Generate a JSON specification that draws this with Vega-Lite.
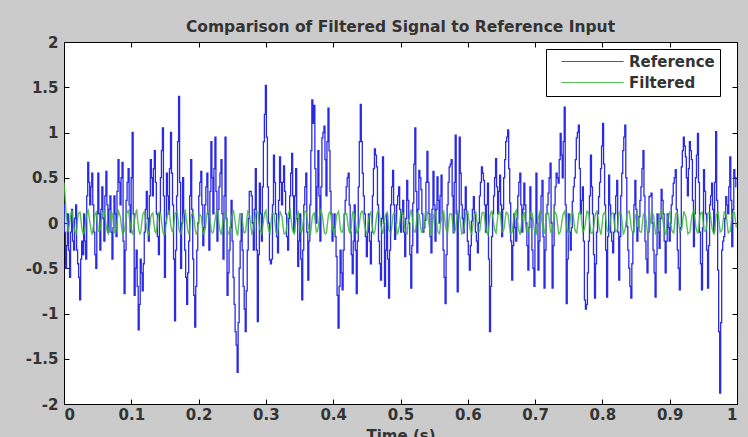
{
  "$schema": "https://vega.github.io/schema/vega-lite/v6.json",
  "width": 673,
  "height": 362,
  "autosize": {"type": "none"},
  "padding": {"left": 64, "top": 42, "right": 11, "bottom": 33},
  "background": "#cbcbcb",
  "title": {
    "text": "Comparison of Filtered Signal to Reference Input",
    "font": "DejaVu Sans",
    "fontSize": 15.5,
    "fontWeight": "bold",
    "color": "#333333",
    "offset": 0
  },
  "config": {
    "view": {"fill": "white", "stroke": "black", "strokeWidth": 1},
    "axis": {
      "domain": false,
      "grid": false,
      "tickColor": "black",
      "tickSize": -5,
      "labelFont": "DejaVu Sans",
      "labelFontSize": 15,
      "labelFontWeight": "bold",
      "labelColor": "#333333",
      "titleFont": "DejaVu Sans",
      "titleFontSize": 15,
      "titleFontWeight": "bold",
      "titleColor": "#333333",
      "labelExpr": "'' + datum.value"
    }
  },
  "data": {
    "values": [
      {"t":0,"r":0.2,"f":0.45},{"t":0.003,"r":-0.5,"f":0.12},{"t":0.006,"r":0.1,"f":-0.1},{"t":0.009,"r":-0.6,"f":0.04},{"t":0.012,"r":0.15,"f":0.14},{"t":0.015,"r":-0.3,"f":-0.06},{"t":0.018,"r":0.2,"f":-0.12},{"t":0.021,"r":-0.45,"f":0.09},{"t":0.024,"r":-0.85,"f":0.12},{"t":0.027,"r":-0.2,"f":-0.08},
      {"t":0.03,"r":0.1,"f":-0.11},{"t":0.033,"r":-0.4,"f":0.07},{"t":0.036,"r":0.67,"f":0.14},{"t":0.039,"r":0.2,"f":-0.02},{"t":0.042,"r":0.55,"f":-0.13},{"t":0.045,"r":-0.1,"f":0.05},{"t":0.048,"r":-0.5,"f":0.12},{"t":0.051,"r":0.55,"f":-0.09},{"t":0.054,"r":-0.3,"f":-0.06},{"t":0.057,"r":0.4,"f":0.11},
      {"t":0.06,"r":-0.2,"f":0.13},{"t":0.063,"r":0.57,"f":-0.05},{"t":0.066,"r":-0.1,"f":-0.12},{"t":0.069,"r":0.3,"f":0.08},{"t":0.072,"r":-0.4,"f":0.1},{"t":0.075,"r":0.3,"f":-0.1},{"t":0.078,"r":-0.15,"f":-0.04},{"t":0.081,"r":0.7,"f":0.13},{"t":0.084,"r":0.2,"f":0.06},{"t":0.087,"r":0.67,"f":-0.12},
      {"t":0.09,"r":-0.78,"f":-0.08},{"t":0.093,"r":0.25,"f":0.1},{"t":0.096,"r":0.6,"f":0.14},{"t":0.099,"r":-0.1,"f":-0.03},{"t":0.102,"r":1.0,"f":-0.13},{"t":0.105,"r":-0.8,"f":0.04},{"t":0.108,"r":-0.3,"f":0.15},{"t":0.111,"r":-1.18,"f":-0.07},{"t":0.114,"r":-0.4,"f":-0.11},{"t":0.117,"r":-0.75,"f":0.09},
      {"t":0.12,"r":-0.1,"f":0.12},{"t":0.123,"r":0.35,"f":-0.06},{"t":0.126,"r":-0.2,"f":-0.13},{"t":0.129,"r":0.7,"f":0.07},{"t":0.132,"r":0.3,"f":0.11},{"t":0.135,"r":0.8,"f":-0.09},{"t":0.138,"r":0.1,"f":-0.05},{"t":0.141,"r":-0.35,"f":0.12},{"t":0.144,"r":0.5,"f":0.09},{"t":0.147,"r":1.05,"f":-0.1},
      {"t":0.15,"r":-0.6,"f":-0.12},{"t":0.153,"r":0.55,"f":0.06},{"t":0.156,"r":0.1,"f":0.14},{"t":0.159,"r":1.0,"f":-0.04},{"t":0.162,"r":0.2,"f":-0.1},{"t":0.165,"r":-1.08,"f":0.1},{"t":0.168,"r":0.3,"f":0.13},{"t":0.171,"r":1.4,"f":-0.08},{"t":0.174,"r":-0.5,"f":-0.12},{"t":0.177,"r":0.5,"f":0.05},
      {"t":0.18,"r":-0.3,"f":0.15},{"t":0.183,"r":-0.9,"f":-0.02},{"t":0.186,"r":-0.2,"f":-0.13},{"t":0.189,"r":0.7,"f":0.08},{"t":0.192,"r":-0.4,"f":0.12},{"t":0.195,"r":-1.15,"f":-0.07},{"t":0.198,"r":-0.3,"f":-0.11},{"t":0.201,"r":0.3,"f":0.1},{"t":0.204,"r":0.57,"f":0.07},{"t":0.207,"r":-0.25,"f":-0.13},
      {"t":0.21,"r":0.2,"f":-0.06},{"t":0.213,"r":0.55,"f":0.12},{"t":0.216,"r":-0.3,"f":0.11},{"t":0.219,"r":0.9,"f":-0.09},{"t":0.222,"r":0.1,"f":-0.1},{"t":0.225,"r":0.95,"f":0.06},{"t":0.228,"r":-0.2,"f":0.14},{"t":0.231,"r":0.4,"f":-0.05},{"t":0.234,"r":0.7,"f":-0.13},{"t":0.237,"r":-0.4,"f":0.09},
      {"t":0.24,"r":0.95,"f":0.11},{"t":0.243,"r":-0.8,"f":-0.08},{"t":0.246,"r":-0.3,"f":-0.12},{"t":0.249,"r":0.25,"f":0.07},{"t":0.252,"r":-0.6,"f":0.13},{"t":0.255,"r":-1.2,"f":-0.03},{"t":0.258,"r":-1.65,"f":-0.14},{"t":0.261,"r":-0.5,"f":0.1},{"t":0.264,"r":0.1,"f":0.09},{"t":0.267,"r":-0.7,"f":-0.1},
      {"t":0.27,"r":-1.2,"f":-0.09},{"t":0.273,"r":-0.3,"f":0.13},{"t":0.276,"r":0.35,"f":0.08},{"t":0.279,"r":0.3,"f":-0.12},{"t":0.282,"r":-0.3,"f":-0.05},{"t":0.285,"r":0.6,"f":0.11},{"t":0.288,"r":-1.09,"f":0.12},{"t":0.291,"r":0.44,"f":-0.07},{"t":0.294,"r":-0.2,"f":-0.12},{"t":0.297,"r":0.9,"f":0.06},
      {"t":0.3,"r":1.52,"f":0.14},{"t":0.303,"r":0.4,"f":-0.04},{"t":0.306,"r":-0.41,"f":-0.11},{"t":0.309,"r":-0.4,"f":0.1},{"t":0.312,"r":0.75,"f":0.1},{"t":0.315,"r":0.1,"f":-0.1},{"t":0.318,"r":-0.33,"f":-0.07},{"t":0.321,"r":0.73,"f":0.13},{"t":0.324,"r":0.2,"f":0.07},{"t":0.327,"r":0.63,"f":-0.12},
      {"t":0.33,"r":0.1,"f":-0.1},{"t":0.333,"r":-0.3,"f":0.08},{"t":0.336,"r":0.3,"f":0.15},{"t":0.339,"r":0.77,"f":-0.06},{"t":0.342,"r":-0.1,"f":-0.12},{"t":0.345,"r":0.6,"f":0.05},{"t":0.348,"r":-0.48,"f":0.12},{"t":0.351,"r":0.1,"f":-0.09},{"t":0.354,"r":-0.85,"f":-0.08},{"t":0.357,"r":0.2,"f":0.11},
      {"t":0.36,"r":0.55,"f":0.12},{"t":0.363,"r":-0.63,"f":-0.03},{"t":0.366,"r":0.2,"f":-0.14},{"t":0.369,"r":1.36,"f":0.07},{"t":0.372,"r":1.3,"f":0.11},{"t":0.375,"r":0.0,"f":-0.1},{"t":0.378,"r":0.8,"f":-0.04},{"t":0.381,"r":-0.2,"f":0.14},{"t":0.384,"r":0.94,"f":0.08},{"t":0.387,"r":1.07,"f":-0.11},
      {"t":0.39,"r":0.3,"f":-0.11},{"t":0.393,"r":1.27,"f":0.09},{"t":0.396,"r":0.35,"f":0.12},{"t":0.399,"r":-0.2,"f":-0.05},{"t":0.402,"r":0.1,"f":-0.13},{"t":0.405,"r":-0.37,"f":0.08},{"t":0.408,"r":-1.16,"f":0.13},{"t":0.411,"r":-0.3,"f":-0.08},{"t":0.414,"r":-0.74,"f":-0.1},{"t":0.417,"r":0.1,"f":0.1},
      {"t":0.42,"r":0.4,"f":0.1},{"t":0.423,"r":0.55,"f":-0.07},{"t":0.426,"r":-0.1,"f":-0.12},{"t":0.429,"r":-0.56,"f":0.12},{"t":0.432,"r":0.2,"f":0.09},{"t":0.435,"r":-0.78,"f":-0.11},{"t":0.438,"r":0.4,"f":-0.06},{"t":0.441,"r":1.31,"f":0.11},{"t":0.444,"r":0.55,"f":0.13},{"t":0.447,"r":0.1,"f":-0.04},
      {"t":0.45,"r":-0.37,"f":-0.13},{"t":0.453,"r":0.1,"f":0.06},{"t":0.456,"r":-0.45,"f":0.12},{"t":0.459,"r":0.3,"f":-0.09},{"t":0.462,"r":0.82,"f":-0.09},{"t":0.465,"r":0.62,"f":0.1},{"t":0.468,"r":-0.2,"f":0.14},{"t":0.471,"r":-0.63,"f":-0.03},{"t":0.474,"r":0.73,"f":-0.12},{"t":0.477,"r":-0.7,"f":0.07},
      {"t":0.48,"r":0.1,"f":0.12},{"t":0.483,"r":-0.83,"f":-0.08},{"t":0.486,"r":0.2,"f":-0.11},{"t":0.489,"r":0.58,"f":0.09},{"t":0.492,"r":-0.18,"f":0.11},{"t":0.495,"r":0.2,"f":-0.12},{"t":0.498,"r":0.4,"f":-0.05},{"t":0.501,"r":-0.1,"f":0.13},{"t":0.504,"r":0.25,"f":0.1},{"t":0.507,"r":-0.37,"f":-0.09},
      {"t":0.51,"r":0.47,"f":-0.12},{"t":0.513,"r":0.0,"f":0.05},{"t":0.516,"r":-0.72,"f":0.15},{"t":0.519,"r":0.22,"f":-0.06},{"t":0.522,"r":1.05,"f":-0.1},{"t":0.525,"r":-0.33,"f":0.11},{"t":0.528,"r":0.58,"f":0.09},{"t":0.531,"r":0.37,"f":-0.1},{"t":0.534,"r":-0.1,"f":-0.07},{"t":0.537,"r":0.03,"f":0.12},
      {"t":0.54,"r":0.79,"f":0.12},{"t":0.543,"r":0.1,"f":-0.05},{"t":0.546,"r":-0.33,"f":-0.13},{"t":0.549,"r":0.57,"f":0.08},{"t":0.552,"r":-0.2,"f":0.12},{"t":0.555,"r":0.51,"f":-0.08},{"t":0.558,"r":0.0,"f":-0.12},{"t":0.561,"r":0.53,"f":0.06},{"t":0.564,"r":-0.3,"f":0.14},{"t":0.567,"r":-0.89,"f":-0.04},
      {"t":0.57,"r":0.2,"f":-0.11},{"t":0.573,"r":0.62,"f":0.1},{"t":0.576,"r":0.7,"f":0.1},{"t":0.579,"r":-0.11,"f":-0.1},{"t":0.582,"r":0.97,"f":-0.06},{"t":0.585,"r":-0.76,"f":0.13},{"t":0.588,"r":0.95,"f":0.08},{"t":0.591,"r":0.2,"f":-0.12},{"t":0.594,"r":-0.11,"f":-0.09},{"t":0.597,"r":0.4,"f":0.09},
      {"t":0.6,"r":-0.2,"f":0.13},{"t":0.603,"r":-0.52,"f":-0.06},{"t":0.606,"r":0.02,"f":-0.12},{"t":0.609,"r":0.29,"f":0.07},{"t":0.612,"r":-0.1,"f":0.12},{"t":0.615,"r":-0.33,"f":-0.09},{"t":0.618,"r":0.3,"f":-0.08},{"t":0.621,"r":0.62,"f":0.11},{"t":0.624,"r":0.47,"f":0.11},{"t":0.627,"r":-0.1,"f":-0.07},
      {"t":0.63,"r":0.44,"f":-0.13},{"t":0.633,"r":-1.2,"f":0.08},{"t":0.636,"r":-0.15,"f":0.13},{"t":0.639,"r":0.3,"f":-0.04},{"t":0.642,"r":0.71,"f":-0.11},{"t":0.645,"r":0.1,"f":0.1},{"t":0.648,"r":0.53,"f":0.12},{"t":0.651,"r":-0.15,"f":-0.1},{"t":0.654,"r":0.5,"f":-0.06},{"t":0.657,"r":0.9,"f":0.12},
      {"t":0.66,"r":1.03,"f":0.09},{"t":0.663,"r":0.22,"f":-0.11},{"t":0.666,"r":-0.63,"f":-0.1},{"t":0.669,"r":0.1,"f":0.09},{"t":0.672,"r":-0.2,"f":0.14},{"t":0.675,"r":0.3,"f":-0.05},{"t":0.678,"r":0.55,"f":-0.13},{"t":0.681,"r":-0.1,"f":0.07},{"t":0.684,"r":0.44,"f":0.11},{"t":0.687,"r":0.0,"f":-0.09},
      {"t":0.69,"r":-0.52,"f":-0.1},{"t":0.693,"r":0.4,"f":0.12},{"t":0.696,"r":-0.3,"f":0.1},{"t":0.699,"r":-0.7,"f":-0.08},{"t":0.702,"r":0.55,"f":-0.12},{"t":0.705,"r":-0.52,"f":0.06},{"t":0.708,"r":0.1,"f":0.15},{"t":0.711,"r":0.47,"f":-0.03},{"t":0.714,"r":-0.72,"f":-0.12},{"t":0.717,"r":0.1,"f":0.1},
      {"t":0.72,"r":0.33,"f":0.11},{"t":0.723,"r":0.66,"f":-0.1},{"t":0.726,"r":-0.72,"f":-0.07},{"t":0.729,"r":0.2,"f":0.13},{"t":0.732,"r":0.55,"f":0.08},{"t":0.735,"r":0.44,"f":-0.12},{"t":0.738,"r":0.99,"f":-0.09},{"t":0.741,"r":0.5,"f":0.08},{"t":0.744,"r":1.28,"f":0.13},{"t":0.747,"r":-0.89,"f":-0.05},
      {"t":0.75,"r":0.1,"f":-0.12},{"t":0.753,"r":-0.3,"f":0.09},{"t":0.756,"r":0.24,"f":0.12},{"t":0.759,"r":0.5,"f":-0.07},{"t":0.762,"r":0.94,"f":-0.11},{"t":0.765,"r":1.08,"f":0.11},{"t":0.768,"r":0.1,"f":0.1},{"t":0.771,"r":0.4,"f":-0.1},{"t":0.774,"r":-0.85,"f":-0.05},{"t":0.777,"r":-0.9,"f":0.13},
      {"t":0.78,"r":-0.2,"f":0.09},{"t":0.783,"r":0.75,"f":-0.11},{"t":0.786,"r":0.1,"f":-0.1},{"t":0.789,"r":-0.83,"f":0.07},{"t":0.792,"r":-0.1,"f":0.14},{"t":0.795,"r":0.29,"f":-0.04},{"t":0.798,"r":0.6,"f":-0.13},{"t":0.801,"r":1.1,"f":0.09},{"t":0.804,"r":0.2,"f":0.12},{"t":0.807,"r":-0.82,"f":-0.08},
      {"t":0.81,"r":0.53,"f":-0.11},{"t":0.813,"r":-0.1,"f":0.1},{"t":0.816,"r":-0.33,"f":0.11},{"t":0.819,"r":0.1,"f":-0.09},{"t":0.822,"r":0.47,"f":-0.08},{"t":0.825,"r":-0.63,"f":0.12},{"t":0.828,"r":0.3,"f":0.1},{"t":0.831,"r":0.8,"f":-0.12},{"t":0.834,"r":1.08,"f":-0.06},{"t":0.837,"r":-0.04,"f":0.11},
      {"t":0.84,"r":-0.5,"f":0.13},{"t":0.843,"r":-0.83,"f":-0.06},{"t":0.846,"r":-0.1,"f":-0.12},{"t":0.849,"r":0.47,"f":0.08},{"t":0.852,"r":-0.2,"f":0.12},{"t":0.855,"r":0.07,"f":-0.09},{"t":0.858,"r":0.4,"f":-0.1},{"t":0.861,"r":0.8,"f":0.1},{"t":0.864,"r":-0.2,"f":0.09},{"t":0.867,"r":-0.55,"f":-0.11},
      {"t":0.87,"r":0.29,"f":-0.07},{"t":0.873,"r":0.33,"f":0.13},{"t":0.876,"r":-0.3,"f":0.08},{"t":0.879,"r":-0.82,"f":-0.12},{"t":0.882,"r":0.1,"f":-0.09},{"t":0.885,"r":-0.28,"f":0.09},{"t":0.888,"r":0.37,"f":0.14},{"t":0.891,"r":0.1,"f":-0.04},{"t":0.894,"r":-0.55,"f":-0.13},{"t":0.897,"r":0.1,"f":0.07},
      {"t":0.9,"r":-0.2,"f":0.12},{"t":0.903,"r":0.2,"f":-0.08},{"t":0.906,"r":0.44,"f":-0.11},{"t":0.909,"r":0.59,"f":0.1},{"t":0.912,"r":-0.3,"f":0.1},{"t":0.915,"r":-0.74,"f":-0.1},{"t":0.918,"r":0.62,"f":-0.06},{"t":0.921,"r":0.95,"f":0.13},{"t":0.924,"r":0.73,"f":0.07},{"t":0.927,"r":0.3,"f":-0.12},
      {"t":0.93,"r":0.9,"f":-0.1},{"t":0.933,"r":0.7,"f":0.08},{"t":0.936,"r":-0.26,"f":0.14},{"t":0.939,"r":0.5,"f":-0.05},{"t":0.942,"r":0.99,"f":-0.12},{"t":0.945,"r":-0.1,"f":0.09},{"t":0.948,"r":-0.74,"f":0.12},{"t":0.951,"r":0.59,"f":-0.09},{"t":0.954,"r":0.1,"f":-0.08},{"t":0.957,"r":-0.72,"f":0.11},
      {"t":0.96,"r":0.2,"f":0.11},{"t":0.963,"r":0.44,"f":-0.06},{"t":0.966,"r":-0.1,"f":-0.13},{"t":0.969,"r":1.01,"f":0.08},{"t":0.972,"r":-0.52,"f":0.12},{"t":0.975,"r":-1.88,"f":-0.1},{"t":0.978,"r":-0.3,"f":-0.07},{"t":0.981,"r":-0.15,"f":0.12},{"t":0.984,"r":0.29,"f":0.09},{"t":0.987,"r":0.1,"f":-0.11},
      {"t":0.99,"r":0.73,"f":-0.09},{"t":0.993,"r":-0.26,"f":0.1},{"t":0.996,"r":0.59,"f":0.12},{"t":0.999,"r":0.4,"f":-0.05},
      {"t":0.0015,"r":-0.1,"f":0.3},{"t":0.0045,"r":-0.25,"f":0.02},{"t":0.0075,"r":-0.3,"f":-0.04},{"t":0.0105,"r":-0.1,"f":0.11},{"t":0.0135,"r":-0.2,"f":0.03},{"t":0.0165,"r":0.05,"f":-0.11},{"t":0.0195,"r":-0.3,"f":-0.02},{"t":0.0225,"r":-0.6,"f":0.12},{"t":0.0255,"r":-0.4,"f":0.01},{"t":0.0285,"r":-0.35,"f":-0.12},
      {"t":0.0315,"r":-0.2,"f":-0.02},{"t":0.0345,"r":0.3,"f":0.12},{"t":0.0375,"r":0.45,"f":0.06},{"t":0.0405,"r":0.4,"f":-0.09},{"t":0.0435,"r":0.2,"f":-0.04},{"t":0.0465,"r":-0.35,"f":0.1},{"t":0.0495,"r":0.1,"f":0.02},{"t":0.0525,"r":0.1,"f":-0.1},{"t":0.0555,"r":0.15,"f":0.04},{"t":0.0585,"r":0.05,"f":0.13},
      {"t":0.0615,"r":0.3,"f":0.03},{"t":0.0645,"r":0.2,"f":-0.1},{"t":0.0675,"r":0.15,"f":-0.01},{"t":0.0705,"r":-0.1,"f":0.12},{"t":0.0735,"r":-0.05,"f":-0.02},{"t":0.0765,"r":0.1,"f":-0.12},{"t":0.0795,"r":0.35,"f":0.06},{"t":0.0825,"r":0.45,"f":0.1},{"t":0.0855,"r":0.5,"f":-0.05},{"t":0.0885,"r":-0.2,"f":-0.11},
      {"t":0.0915,"r":-0.3,"f":0.02},{"t":0.0945,"r":0.45,"f":0.13},{"t":0.0975,"r":0.2,"f":0.04},{"t":0.1005,"r":0.5,"f":-0.1},{"t":0.1035,"r":0.1,"f":-0.05},{"t":0.1065,"r":-0.5,"f":0.11},{"t":0.1095,"r":-0.7,"f":0.03},{"t":0.1125,"r":-0.9,"f":-0.12},{"t":0.1155,"r":-0.55,"f":0.0},{"t":0.1185,"r":-0.45,"f":0.12},
      {"t":0.1215,"r":0.15,"f":0.02},{"t":0.1245,"r":0.05,"f":-0.11},{"t":0.1275,"r":0.3,"f":-0.03},{"t":0.1305,"r":0.5,"f":0.1},{"t":0.1335,"r":0.6,"f":0.0},{"t":0.1365,"r":0.45,"f":-0.11},{"t":0.1395,"r":-0.15,"f":0.05},{"t":0.1425,"r":0.1,"f":0.12},{"t":0.1455,"r":0.8,"f":-0.02},{"t":0.1485,"r":0.3,"f":-0.13},
      {"t":0.1515,"r":0.0,"f":-0.01},{"t":0.1545,"r":0.3,"f":0.11},{"t":0.1575,"r":0.6,"f":0.05},{"t":0.1605,"r":0.55,"f":-0.09},{"t":0.1635,"r":-0.4,"f":0.01},{"t":0.1665,"r":-0.3,"f":0.12},{"t":0.1695,"r":0.9,"f":0.03},{"t":0.1725,"r":0.45,"f":-0.11},{"t":0.1755,"r":0.0,"f":-0.03},{"t":0.1785,"r":0.1,"f":0.11},
      {"t":0.1815,"r":-0.6,"f":0.06},{"t":0.1845,"r":-0.55,"f":-0.1},{"t":0.1875,"r":0.3,"f":-0.01},{"t":0.1905,"r":0.15,"f":0.11},{"t":0.1935,"r":-0.8,"f":0.02},{"t":0.1965,"r":-0.7,"f":-0.12},{"t":0.1995,"r":0.0,"f":0.0},{"t":0.2025,"r":0.45,"f":0.09},{"t":0.2055,"r":0.2,"f":-0.04},{"t":0.2085,"r":-0.05,"f":-0.1},
      {"t":0.2115,"r":0.4,"f":0.04},{"t":0.2145,"r":0.1,"f":0.13},{"t":0.2175,"r":0.35,"f":0.0},{"t":0.2205,"r":0.5,"f":-0.11},{"t":0.2235,"r":0.6,"f":-0.01},{"t":0.2265,"r":0.35,"f":0.12},{"t":0.2295,"r":0.15,"f":0.04},{"t":0.2325,"r":0.55,"f":-0.1},{"t":0.2355,"r":0.1,"f":-0.02},{"t":0.2385,"r":0.3,"f":0.11},
      {"t":0.2415,"r":0.05,"f":0.01},{"t":0.2445,"r":-0.55,"f":-0.12},{"t":0.2475,"r":-0.05,"f":-0.02},{"t":0.2505,"r":-0.2,"f":0.11},{"t":0.2535,"r":-0.9,"f":0.05},{"t":0.2565,"r":-1.35,"f":-0.1},{"t":0.2595,"r":-1.1,"f":-0.03},{"t":0.2625,"r":-0.2,"f":0.1},{"t":0.2655,"r":-0.3,"f":0.0},{"t":0.2685,"r":-0.95,"f":-0.11},
      {"t":0.2715,"r":-0.75,"f":0.03},{"t":0.2745,"r":0.05,"f":0.12},{"t":0.2775,"r":0.35,"f":-0.03},{"t":0.2805,"r":0.0,"f":-0.1},{"t":0.2835,"r":0.15,"f":0.04},{"t":0.2865,"r":-0.3,"f":0.13},{"t":0.2895,"r":-0.35,"f":0.01},{"t":0.2925,"r":0.1,"f":-0.1},{"t":0.2955,"r":0.4,"f":-0.03},{"t":0.2985,"r":1.2,"f":0.12},
      {"t":0.3015,"r":0.95,"f":0.05},{"t":0.3045,"r":0.0,"f":-0.09},{"t":0.3075,"r":-0.45,"f":0.0},{"t":0.3105,"r":0.2,"f":0.11},{"t":0.3135,"r":0.45,"f":0.0},{"t":0.3165,"r":-0.15,"f":-0.12},{"t":0.3195,"r":0.25,"f":0.04},{"t":0.3225,"r":0.45,"f":0.1},{"t":0.3255,"r":0.45,"f":-0.04},{"t":0.3285,"r":0.35,"f":-0.12},
      {"t":0.3315,"r":-0.15,"f":0.0},{"t":0.3345,"r":0.05,"f":0.13},{"t":0.3375,"r":0.55,"f":0.04},{"t":0.3405,"r":0.3,"f":-0.1},{"t":0.3435,"r":0.3,"f":-0.03},{"t":0.3465,"r":0.05,"f":0.1},{"t":0.3495,"r":-0.2,"f":0.01},{"t":0.3525,"r":-0.4,"f":-0.11},{"t":0.3555,"r":-0.3,"f":0.02},{"t":0.3585,"r":0.4,"f":0.13},
      {"t":0.3615,"r":-0.1,"f":0.03},{"t":0.3645,"r":-0.2,"f":-0.1},{"t":0.3675,"r":0.8,"f":-0.04},{"t":0.3705,"r":1.1,"f":0.1},{"t":0.3735,"r":0.6,"f":0.0},{"t":0.3765,"r":0.4,"f":-0.09},{"t":0.3795,"r":0.3,"f":0.06},{"t":0.3825,"r":0.4,"f":0.12},{"t":0.3855,"r":1.0,"f":-0.02},{"t":0.3885,"r":0.7,"f":-0.12},
      {"t":0.3915,"r":0.9,"f":0.0},{"t":0.3945,"r":0.8,"f":0.12},{"t":0.3975,"r":0.1,"f":0.02},{"t":0.4005,"r":-0.05,"f":-0.1},{"t":0.4035,"r":-0.15,"f":-0.02},{"t":0.4065,"r":-0.8,"f":0.11},{"t":0.4095,"r":-0.7,"f":0.03},{"t":0.4125,"r":-0.55,"f":-0.1},{"t":0.4155,"r":-0.3,"f":0.0},{"t":0.4185,"r":0.25,"f":0.11},
      {"t":0.4215,"r":0.5,"f":0.01},{"t":0.4245,"r":0.2,"f":-0.11},{"t":0.4275,"r":-0.35,"f":0.02},{"t":0.4305,"r":-0.2,"f":0.11},{"t":0.4335,"r":-0.3,"f":-0.02},{"t":0.4365,"r":-0.2,"f":-0.1},{"t":0.4395,"r":0.9,"f":0.03},{"t":0.4425,"r":0.9,"f":0.13},{"t":0.4455,"r":0.3,"f":0.03},{"t":0.4485,"r":-0.15,"f":-0.1},
      {"t":0.4515,"r":-0.1,"f":-0.02},{"t":0.4545,"r":-0.2,"f":0.1},{"t":0.4575,"r":-0.1,"f":0.0},{"t":0.4605,"r":0.6,"f":-0.12},{"t":0.4635,"r":0.75,"f":0.01},{"t":0.4665,"r":0.2,"f":0.13},{"t":0.4695,"r":-0.45,"f":0.04},{"t":0.4725,"r":0.05,"f":-0.09},{"t":0.4755,"r":0.0,"f":-0.02},{"t":0.4785,"r":-0.3,"f":0.1},
      {"t":0.4815,"r":-0.4,"f":0.02},{"t":0.4845,"r":-0.3,"f":-0.1},{"t":0.4875,"r":0.4,"f":-0.01},{"t":0.4905,"r":0.2,"f":0.11},{"t":0.4935,"r":0.0,"f":-0.01},{"t":0.4965,"r":0.3,"f":-0.1},{"t":0.4995,"r":0.15,"f":0.05},{"t":0.5025,"r":0.1,"f":0.12},{"t":0.5055,"r":-0.1,"f":-0.01},{"t":0.5085,"r":0.05,"f":-0.11},
      {"t":0.5115,"r":0.25,"f":0.02},{"t":0.5145,"r":-0.35,"f":0.11},{"t":0.5175,"r":-0.25,"f":0.05},{"t":0.5205,"r":0.65,"f":-0.1},{"t":0.5235,"r":0.35,"f":0.0},{"t":0.5265,"r":0.15,"f":0.11},{"t":0.5295,"r":0.5,"f":-0.02},{"t":0.5325,"r":0.1,"f":-0.1},{"t":0.5355,"r":-0.05,"f":0.03},{"t":0.5385,"r":0.45,"f":0.12},
      {"t":0.5415,"r":0.45,"f":0.03},{"t":0.5445,"r":-0.15,"f":-0.1},{"t":0.5475,"r":0.15,"f":-0.03},{"t":0.5505,"r":0.2,"f":0.11},{"t":0.5535,"r":0.15,"f":0.02},{"t":0.5565,"r":0.25,"f":-0.11},{"t":0.5595,"r":0.3,"f":-0.01},{"t":0.5625,"r":0.1,"f":0.11},{"t":0.5655,"r":-0.6,"f":0.05},{"t":0.5685,"r":-0.35,"f":-0.09},
      {"t":0.5715,"r":0.45,"f":0.0},{"t":0.5745,"r":0.65,"f":0.1},{"t":0.5775,"r":0.3,"f":0.0},{"t":0.5805,"r":0.45,"f":-0.1},{"t":0.5835,"r":0.1,"f":0.04},{"t":0.5865,"r":0.1,"f":0.11},{"t":0.5895,"r":0.55,"f":-0.03},{"t":0.5925,"r":0.05,"f":-0.11},{"t":0.5955,"r":0.15,"f":0.0},{"t":0.5985,"r":0.1,"f":0.12},
      {"t":0.6015,"r":-0.35,"f":0.04},{"t":0.6045,"r":-0.25,"f":-0.1},{"t":0.6075,"r":0.15,"f":-0.02},{"t":0.6105,"r":0.1,"f":0.1},{"t":0.6135,"r":-0.2,"f":0.02},{"t":0.6165,"r":0.0,"f":-0.1},{"t":0.6195,"r":0.45,"f":0.02},{"t":0.6225,"r":0.55,"f":0.12},{"t":0.6255,"r":0.2,"f":0.02},{"t":0.6285,"r":0.2,"f":-0.11},
      {"t":0.6315,"r":-0.4,"f":-0.02},{"t":0.6345,"r":-0.7,"f":0.12},{"t":0.6375,"r":0.1,"f":0.05},{"t":0.6405,"r":0.5,"f":-0.09},{"t":0.6435,"r":0.4,"f":0.0},{"t":0.6465,"r":0.35,"f":0.12},{"t":0.6495,"r":0.2,"f":0.01},{"t":0.6525,"r":0.15,"f":-0.09},{"t":0.6555,"r":0.7,"f":0.04},{"t":0.6585,"r":0.95,"f":0.11},
      {"t":0.6615,"r":0.6,"f":-0.01},{"t":0.6645,"r":-0.2,"f":-0.11},{"t":0.6675,"r":-0.25,"f":0.0},{"t":0.6705,"r":-0.05,"f":0.12},{"t":0.6735,"r":0.05,"f":0.05},{"t":0.6765,"r":0.45,"f":-0.1},{"t":0.6795,"r":0.2,"f":-0.03},{"t":0.6825,"r":0.15,"f":0.1},{"t":0.6855,"r":0.2,"f":0.01},{"t":0.6885,"r":-0.25,"f":-0.1},
      {"t":0.6915,"r":-0.05,"f":0.02},{"t":0.6945,"r":0.05,"f":0.12},{"t":0.6975,"r":-0.5,"f":0.01},{"t":0.7005,"r":-0.1,"f":-0.11},{"t":0.7035,"r":0.0,"f":-0.03},{"t":0.7065,"r":-0.2,"f":0.11},{"t":0.7095,"r":0.3,"f":0.06},{"t":0.7125,"r":-0.15,"f":-0.09},{"t":0.7155,"r":-0.3,"f":-0.01},{"t":0.7185,"r":0.2,"f":0.11},
      {"t":0.7215,"r":0.5,"f":0.0},{"t":0.7245,"r":0.0,"f":-0.09},{"t":0.7275,"r":-0.25,"f":0.03},{"t":0.7305,"r":0.4,"f":0.11},{"t":0.7335,"r":0.5,"f":-0.02},{"t":0.7365,"r":0.7,"f":-0.11},{"t":0.7395,"r":0.75,"f":0.0},{"t":0.7425,"r":0.9,"f":0.11},{"t":0.7455,"r":0.2,"f":0.04},{"t":0.7485,"r":-0.4,"f":-0.1},
      {"t":0.7515,"r":-0.1,"f":-0.02},{"t":0.7545,"r":-0.05,"f":0.11},{"t":0.7575,"r":0.4,"f":0.03},{"t":0.7605,"r":0.7,"f":-0.1},{"t":0.7635,"r":1.0,"f":0.0},{"t":0.7665,"r":0.6,"f":0.12},{"t":0.7695,"r":0.25,"f":0.0},{"t":0.7725,"r":-0.2,"f":-0.08},{"t":0.7755,"r":-0.95,"f":0.05},{"t":0.7785,"r":-0.55,"f":0.12},
      {"t":0.7815,"r":0.3,"f":-0.01},{"t":0.7845,"r":0.4,"f":-0.11},{"t":0.7875,"r":-0.35,"f":-0.02},{"t":0.7905,"r":-0.45,"f":0.11},{"t":0.7935,"r":0.1,"f":0.05},{"t":0.7965,"r":0.45,"f":-0.09},{"t":0.7995,"r":0.85,"f":-0.02},{"t":0.8025,"r":0.65,"f":0.11},{"t":0.8055,"r":-0.3,"f":0.02},{"t":0.8085,"r":-0.15,"f":-0.1},
      {"t":0.8115,"r":0.2,"f":0.0},{"t":0.8145,"r":-0.2,"f":0.11},{"t":0.8175,"r":-0.1,"f":0.01},{"t":0.8205,"r":0.3,"f":-0.09},{"t":0.8235,"r":-0.1,"f":0.02},{"t":0.8265,"r":-0.15,"f":0.12},{"t":0.8295,"r":0.55,"f":-0.01},{"t":0.8325,"r":0.95,"f":-0.1},{"t":0.8355,"r":0.5,"f":0.03},{"t":0.8385,"r":-0.3,"f":0.12},
      {"t":0.8415,"r":-0.7,"f":0.04},{"t":0.8445,"r":-0.45,"f":-0.1},{"t":0.8475,"r":0.2,"f":-0.02},{"t":0.8505,"r":0.15,"f":0.1},{"t":0.8535,"r":-0.05,"f":0.02},{"t":0.8565,"r":0.25,"f":-0.1},{"t":0.8595,"r":0.6,"f":0.0},{"t":0.8625,"r":0.3,"f":0.1},{"t":0.8655,"r":-0.4,"f":-0.01},{"t":0.8685,"r":-0.1,"f":-0.1},
      {"t":0.8715,"r":0.3,"f":0.03},{"t":0.8745,"r":0.0,"f":0.11},{"t":0.8775,"r":-0.55,"f":-0.02},{"t":0.8805,"r":-0.35,"f":-0.11},{"t":0.8835,"r":-0.1,"f":0.0},{"t":0.8865,"r":0.05,"f":0.12},{"t":0.8895,"r":0.25,"f":0.05},{"t":0.8925,"r":-0.2,"f":-0.09},{"t":0.8955,"r":-0.2,"f":-0.03},{"t":0.8985,"r":-0.05,"f":0.1},
      {"t":0.9015,"r":0.0,"f":0.02},{"t":0.9045,"r":0.3,"f":-0.1},{"t":0.9075,"r":0.5,"f":0.0},{"t":0.9105,"r":0.15,"f":0.11},{"t":0.9135,"r":-0.5,"f":0.0},{"t":0.9165,"r":-0.05,"f":-0.09},{"t":0.9195,"r":0.8,"f":0.04},{"t":0.9225,"r":0.85,"f":0.1},{"t":0.9255,"r":0.5,"f":-0.03},{"t":0.9285,"r":0.6,"f":-0.11},
      {"t":0.9315,"r":0.8,"f":-0.01},{"t":0.9345,"r":0.25,"f":0.12},{"t":0.9375,"r":0.1,"f":0.05},{"t":0.9405,"r":0.75,"f":-0.09},{"t":0.9435,"r":0.45,"f":-0.02},{"t":0.9465,"r":-0.45,"f":0.11},{"t":0.9495,"r":-0.05,"f":0.02},{"t":0.9525,"r":0.35,"f":-0.09},{"t":0.9555,"r":-0.3,"f":0.02},{"t":0.9585,"r":-0.25,"f":0.11},
      {"t":0.9615,"r":0.3,"f":0.03},{"t":0.9645,"r":0.15,"f":-0.1},{"t":0.9675,"r":0.45,"f":-0.02},{"t":0.9705,"r":0.25,"f":0.11},{"t":0.9735,"r":-1.2,"f":0.01},{"t":0.9765,"r":-1.1,"f":-0.09},{"t":0.9795,"r":-0.2,"f":0.03},{"t":0.9825,"r":0.05,"f":0.11},{"t":0.9855,"r":0.2,"f":-0.01},{"t":0.9885,"r":0.4,"f":-0.1},
      {"t":0.9915,"r":0.25,"f":0.01},{"t":0.9945,"r":0.15,"f":0.12},{"t":0.9975,"r":0.5,"f":0.04}
    ]
  },
  "layer": [
    {
      "mark": {"type": "line", "strokeWidth": 1.3, "interpolate": "step", "clip": true},
      "encoding": {
        "x": {
          "field": "t",
          "type": "quantitative",
          "scale": {"domain": [0, 1], "nice": false},
          "axis": {
            "orient": "bottom",
            "values": [0, 0.1, 0.2, 0.3, 0.4, 0.5, 0.6, 0.7, 0.8, 0.9, 1],
            "labelPadding": 8,
            "title": "Time (s)",
            "titlePadding": 6
          }
        },
        "y": {
          "field": "r",
          "type": "quantitative",
          "scale": {"domain": [-2, 2], "nice": false},
          "axis": {
            "orient": "left",
            "values": [-2, -1.5, -1, -0.5, 0, 0.5, 1, 1.5, 2],
            "labelPadding": 11,
            "title": null
          }
        },
        "color": {
          "datum": "Reference",
          "type": "nominal",
          "scale": {"domain": ["Reference", "Filtered"], "range": ["#2a2ae6", "#3cb43c"]},
          "legend": {
            "title": null,
            "orient": "none",
            "legendX": 482,
            "legendY": 7,
            "direction": "vertical",
            "fillColor": "white",
            "strokeColor": "black",
            "padding": 5,
            "symbolType": "M-5,0H5",
            "symbolSize": 154,
            "symbolStrokeWidth": 1.2,
            "symbolOffset": 34,
            "labelOffset": 29,
            "labelFont": "DejaVu Sans",
            "labelFontSize": 15,
            "labelFontWeight": "bold",
            "labelColor": "#333333",
            "rowPadding": 5
          }
        }
      }
    },
    {
      "mark": {"type": "line", "strokeWidth": 1.4, "opacity": 0.85, "clip": true},
      "encoding": {
        "x": {
          "field": "t",
          "type": "quantitative",
          "axis": {
            "orient": "top",
            "values": [0, 0.1, 0.2, 0.3, 0.4, 0.5, 0.6, 0.7, 0.8, 0.9, 1],
            "labels": false,
            "title": null
          }
        },
        "y": {
          "field": "f",
          "type": "quantitative",
          "axis": {
            "orient": "right",
            "values": [-2, -1.5, -1, -0.5, 0, 0.5, 1, 1.5, 2],
            "labels": false,
            "title": null
          }
        },
        "color": {"datum": "Filtered", "type": "nominal"}
      }
    }
  ],
  "resolve": {"axis": {"x": "independent", "y": "independent"}}
}
